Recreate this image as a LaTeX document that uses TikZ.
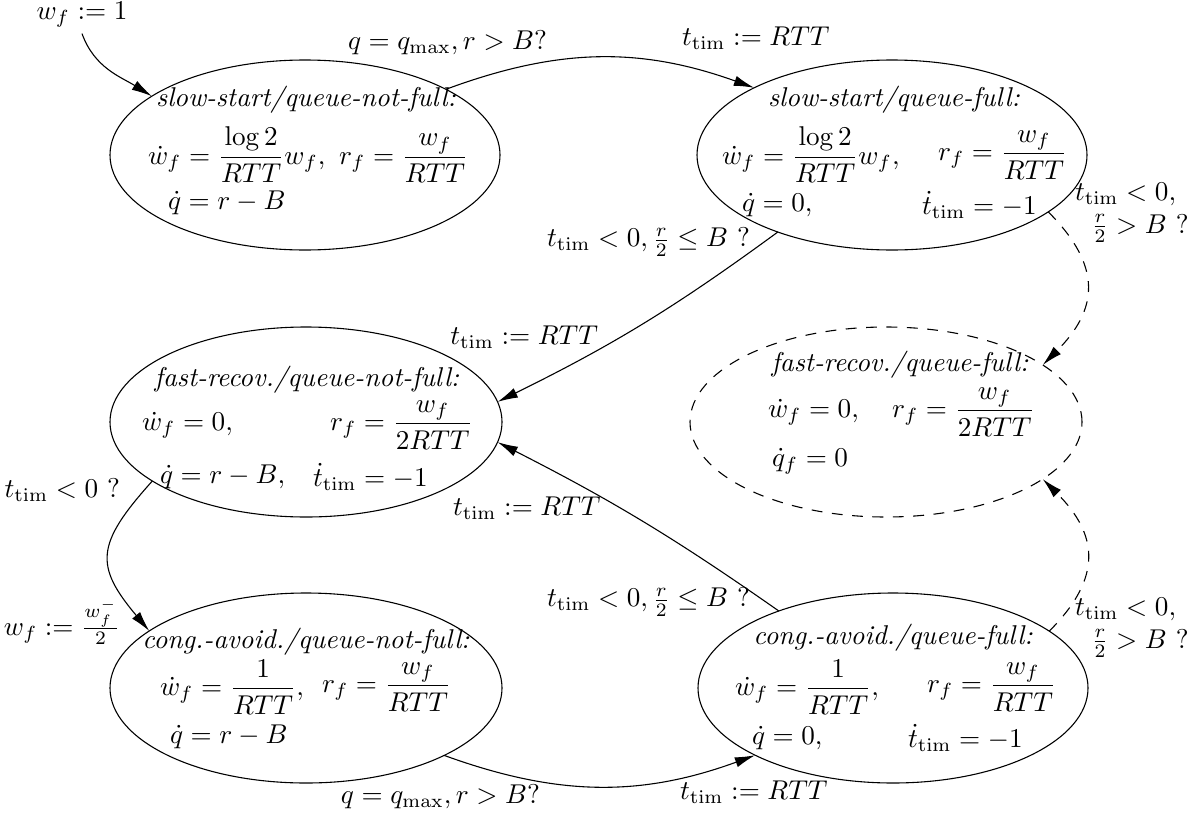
\documentclass[tikz,border=0pt]{standalone}
\usepackage{amsmath}
\usetikzlibrary{arrows.meta,shapes.geometric}
\begin{document}
\begin{tikzpicture}[x=0.368pt,y=-0.368pt,
  state/.style={ellipse,draw,inner sep=0pt,outer sep=0pt,minimum height=190*0.368pt},
  tx/.style={inner sep=0pt,outer sep=0pt},
  arr/.style={-{Latex[length=7.5pt,width=3.8pt]}},
  dsh/.style={dash pattern=on 4pt off 3.5pt}]
\useasboundingbox (0,0) rectangle (1201,817);

% states
\node[state,minimum width=390*0.368pt] (e1) at (305,155) {};
\node[state,minimum width=390*0.368pt] (e2) at (892,155) {};
\node[state,minimum width=392*0.368pt] (e3) at (306,422) {};
\node[state,dsh,minimum width=392*0.368pt] (e4) at (886,422) {};
\node[state,minimum width=392*0.368pt] (e5) at (306,688) {};
\node[state,minimum width=390*0.368pt] (e6) at (893,688) {};

% state texts
\node[tx] (e1t) at (306,100) {\textit{slow-start/queue-not-full:}};
\node[tx,anchor=west] (e1a) at (148,155) {$\dot{w}_f=\dfrac{\log 2}{RTT}w_f,\ r_f=\dfrac{w_f}{RTT}$};
\node[tx,anchor=west] (e1b) at (168,203) {$\dot{q}=r-B$};

\node[tx] (e2t) at (894,100) {\textit{slow-start/queue-full:}};
\node[tx,anchor=west] (e2a) at (722,155) {$\dot{w}_f=\dfrac{\log 2}{RTT}w_f,$};
\node[tx,anchor=west] (e2b) at (938,155) {$r_f=\dfrac{w_f}{RTT}$};
\node[tx,anchor=west] (e2c) at (742,205) {$\dot{q}=0,$};
\node[tx,anchor=west] (e2d) at (922,205) {$\dot{t}_{\mathrm{tim}}=-1$};

\node[tx] (e3t) at (307,380) {\textit{fast-recov./queue-not-full:}};
\node[tx,anchor=west] (e3a) at (142,425) {$\dot{w}_f=0,$};
\node[tx,anchor=west] (e3b) at (330,425) {$r_f=\dfrac{w_f}{2RTT}$};
\node[tx,anchor=west] (e3c) at (160,477) {$\dot{q}=r-B,$};
\node[tx,anchor=west] (e3d) at (313,477) {$\dot{t}_{\mathrm{tim}}=-1$};

\node[tx] (e4t) at (900,365) {\textit{fast-recov./queue-full:}};
\node[tx,anchor=west] (e4a) at (768,412) {$\dot{w}_f=0,$};
\node[tx,anchor=west] (e4b) at (892,412) {$r_f=\dfrac{w_f}{2RTT}$};
\node[tx,anchor=west] (e4c) at (772,461) {$\dot{q}_f=0$};

\node[tx] (e5t) at (306,642) {\textit{cong.-avoid./queue-not-full:}};
\node[tx,anchor=west] (e5a) at (160,687) {$\dot{w}_f=\dfrac{1}{RTT},$};
\node[tx,anchor=west] (e5b) at (322,687) {$r_f=\dfrac{w_f}{RTT}$};
\node[tx,anchor=west] (e5c) at (170,737) {$\dot{q}=r-B$};

\node[tx] (e6t) at (893,638) {\textit{cong.-avoid./queue-full:}};
\node[tx,anchor=west] (e6a) at (735,687) {$\dot{w}_f=\dfrac{1}{RTT},$};
\node[tx,anchor=west] (e6b) at (927,687) {$r_f=\dfrac{w_f}{RTT}$};
\node[tx,anchor=west] (e6c) at (752,738) {$\dot{q}=0,$};
\node[tx,anchor=west] (e6d) at (908,738) {$\dot{t}_{\mathrm{tim}}=-1$};

% edge labels
\node[inner sep=2pt] (l0) at (82,15) {$w_f:=1$};
\node[tx,anchor=west] (l1) at (348,43) {$q=q_{\max},r>B?$};
\node[tx,anchor=west] (l2) at (682,38) {$t_{\mathrm{tim}}:=RTT$};
\node[tx,anchor=east] (l3) at (750,242) {$t_{\mathrm{tim}}<0,\frac{r}{2}\le B$ ?};
\node[tx,anchor=east] (l4) at (598,337) {$t_{\mathrm{tim}}:=RTT$};
\node[tx,anchor=west,align=left] (l5) at (1075,213) {$t_{\mathrm{tim}}<0,$\\\hspace*{6pt}$\frac{r}{2}>B$ ?};
\node[tx,anchor=east] (l6) at (120,490) {$t_{\mathrm{tim}}<0$ ?};
\node[tx,anchor=east] (l7) at (120,622) {$w_f:=\frac{w_f^-}{2}$};
\node[tx,anchor=west] (l8) at (453,508) {$t_{\mathrm{tim}}:=RTT$};
\node[tx,anchor=east] (l9) at (750,602) {$t_{\mathrm{tim}}<0,\frac{r}{2}\le B$ ?};
\node[tx,anchor=west,align=left] (l10) at (1075,628) {$t_{\mathrm{tim}}<0,$\\\hspace*{6pt}$\frac{r}{2}>B$ ?};
\node[tx,anchor=east] (l11) at (540,797) {$q=q_{\max},r>B?$};
\node[tx,anchor=west] (l12) at (680,792) {$t_{\mathrm{tim}}:=RTT$};

% edges
\draw[arr] (l0.south) to[out=-70,in=148] (e1.159);
\draw[arr] (e1.25) to[bend left=20] (e2.154);
\draw[arr] (e2.214) to[bend left=5] (e3.6);
\draw[arr,dsh] (e2.-20) to[out=-45,in=45,looseness=1.3] (e4.20);
\draw[arr] (e3.201) to[out=228,in=130,looseness=1.45] (e5.160);
\draw[arr] (e5.-26) to[bend right=20] (e6.206);
\draw[arr] (e6.146) to[bend right=4] (e3.-6);
\draw[arr,dsh] (e6.20) to[out=45,in=-45,looseness=1.3] (e4.-20);
\end{tikzpicture}
\end{document}
